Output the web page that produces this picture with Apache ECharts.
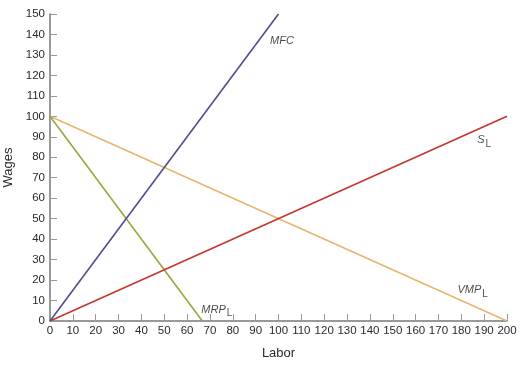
<!DOCTYPE html>
<html><head><meta charset="utf-8">
<script src="https://cdn.jsdelivr.net/npm/echarts@6/dist/echarts.min.js"></script>
<style>html,body{margin:0;padding:0;background:#fff}#c{width:526px;height:369px}</style>
</head><body><div id="c"></div>
<script>
const xTicks = [0,200,10];
const yTicks = [0,150,10];
const mfc = [[0,0],[100,150]];
const supply = [[0,0],[200,100]];
const vmp = [[0,100],[200,0]];
const mrp = [[0,100],[66.67,0]];
const curveLabels = [
  {name:'MFC', value:[101.5,137], main:'MFC', sub:''},
  {name:'SL', value:[190,88.5], main:'S', sub:'L'},
  {name:'VMPL', value:[185,15], main:'VMP', sub:'L'},
  {name:'MRPL', value:[73,5.5], main:'MRP', sub:'L'}
];
const F = '"Liberation Sans Narrow","Liberation Sans",Arial,sans-serif';
const chart = echarts.init(document.getElementById('c'));
const lineS = (data,color)=>({type:'line',data,symbol:'none',lineStyle:{color,width:1.6},silent:true,z:3});
chart.setOption({
  animation:false,
  grid:{left:50,right:19,top:14,bottom:48,containLabel:false,outerBoundsMode:'none'},
  xAxis:{type:'value',min:xTicks[0],max:xTicks[1],interval:xTicks[2],
    name:'Labor',nameLocation:'middle',nameGap:26,
    nameTextStyle:{fontFamily:F,fontSize:13,color:'#2a2a2a'},
    axisLine:{lineStyle:{color:'#999',width:2}},
    axisTick:{inside:true,length:7,lineStyle:{color:'#999'}},
    axisLabel:{fontFamily:F,fontSize:11.5,color:'#2a2a2a',margin:4},
    splitLine:{show:false}},
  yAxis:{type:'value',min:yTicks[0],max:yTicks[1],interval:yTicks[2],
    name:'Wages',nameLocation:'middle',nameGap:32,
    nameTextStyle:{fontFamily:F,fontSize:13,color:'#2a2a2a'},
    axisLine:{show:true,lineStyle:{color:'#999',width:2}},
    axisTick:{show:true,inside:true,length:7,lineStyle:{color:'#999'}},
    axisLabel:{fontFamily:F,fontSize:11.5,color:'#2a2a2a',margin:5},
    splitLine:{show:false}},
  series:[
    lineS(vmp,'#e8b56f'),
    lineS(mrp,'#95a83c'),
    lineS(supply,'#c4362e'),
    lineS(mfc,'#4b4f92'),
    {type:'scatter',data:curveLabels,symbolSize:0,silent:true,z:5,
     label:{show:true,position:'inside',
       formatter:p=>'{m|'+p.data.main+'}'+(p.data.sub?'{s|'+p.data.sub+'}':''),
       rich:{m:{fontFamily:F,fontStyle:'italic',fontSize:11,color:'#1a1a1a'},
             s:{fontFamily:F,fontSize:10,color:'#1a1a1a',padding:[8,0,0,1]}}}}
  ]
});
</script></body></html>
